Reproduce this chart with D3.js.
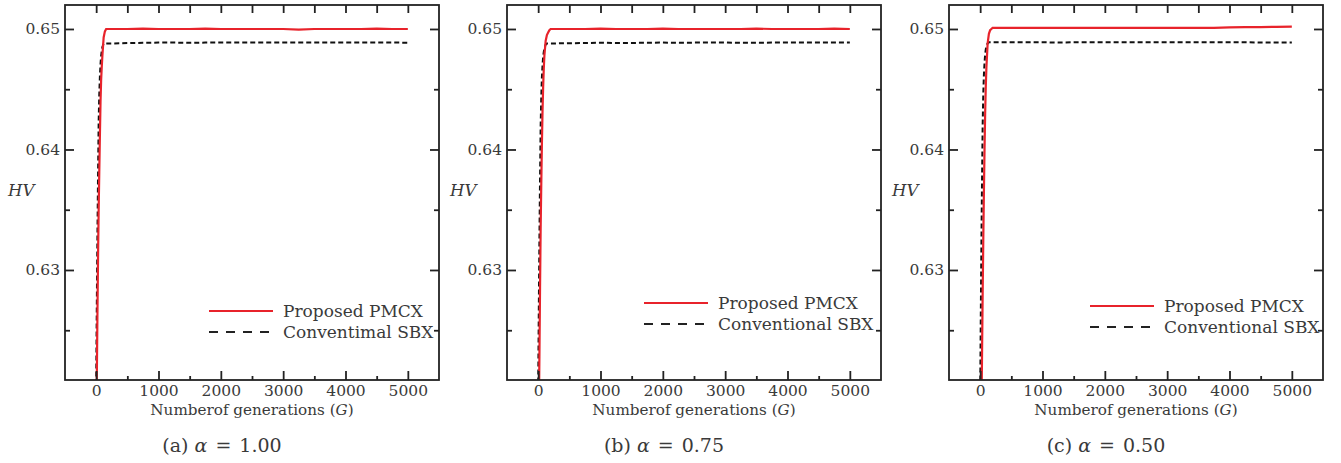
<!DOCTYPE html>
<html>
<head>
<meta charset="utf-8">
<script src="https://cdn.jsdelivr.net/npm/d3@7"></script>
<style>
  html, body { margin: 0; padding: 0; background: #fff; }
  svg { display: block; }
  text { font-family: "DejaVu Serif", "Liberation Serif", serif; fill: #3a3a3a; }
</style>
</head>
<body>
<svg id="chart" width="1341" height="463"></svg>
<script>
// Generations at which hypervolume was recorded
const generations = [0, 10, 20, 30, 40, 50, 60, 70, 80, 90, 100, 120, 140, 160, 180, 200,
  250, 500, 750, 1000, 1250, 1500, 1750, 2000, 2250, 2500, 2750, 3000, 3250, 3500, 3750, 4000, 4250, 4500, 4750, 5000];

// Hypervolume of the proposed PMCX, one list per alpha
const pmcxA100 = [0.6150, 0.6209, 0.6262, 0.6310, 0.6350, 0.6382, 0.6412, 0.6440, 0.6458, 0.6469, 0.6478, 0.6493, 0.6498, 0.6500, 0.6500, 0.6500,
  0.6500, 0.6500, 0.65003, 0.6500, 0.6500, 0.6500, 0.65003, 0.6500, 0.6500, 0.6500, 0.6500, 0.6500, 0.64995, 0.6500, 0.6500, 0.6500, 0.6500, 0.65003, 0.6500, 0.6500];
const pmcxA075 = [0.6120, 0.6175, 0.6228, 0.6285, 0.6335, 0.6372, 0.6405, 0.6432, 0.6452, 0.6467, 0.6478, 0.6490, 0.6495, 0.6497, 0.6499, 0.6500,
  0.6500, 0.6500, 0.6500, 0.65003, 0.6500, 0.6500, 0.6500, 0.65003, 0.6500, 0.6500, 0.6500, 0.6500, 0.6500, 0.65003, 0.6500, 0.6500, 0.6500, 0.6500, 0.65003, 0.6500];
const pmcxA050 = [0.6080, 0.6130, 0.6180, 0.6230, 0.6280, 0.6325, 0.6365, 0.6400, 0.6430, 0.6452, 0.6468, 0.6488, 0.6496, 0.6499, 0.6500, 0.6501,
  0.6501, 0.6501, 0.6501, 0.6501, 0.6501, 0.6501, 0.6501, 0.6501, 0.6501, 0.6501, 0.6501, 0.6501, 0.6501, 0.6501, 0.6501, 0.65013, 0.65015, 0.65015, 0.65018, 0.6502];

// Hypervolume of the conventional SBX, one list per alpha
const sbxA100 = [0.6205, 0.6270, 0.6328, 0.6378, 0.6423, 0.6446, 0.6461, 0.6471, 0.6478, 0.6482, 0.6485, 0.6488, 0.6488, 0.6488, 0.6488, 0.6488,
  0.6488, 0.64883, 0.64885, 0.64887, 0.64887, 0.64885, 0.64887, 0.64887, 0.64887, 0.64887, 0.64887, 0.64888, 0.64888, 0.64888, 0.64888, 0.64888, 0.64888, 0.64888, 0.64888, 0.64886];
const sbxA075 = [0.6200, 0.6266, 0.6325, 0.6376, 0.6420, 0.6444, 0.6460, 0.6470, 0.6477, 0.6481, 0.6484, 0.6487, 0.6488, 0.6488, 0.6488, 0.6488,
  0.6488, 0.64882, 0.64883, 0.64886, 0.64884, 0.64884, 0.64886, 0.64887, 0.64885, 0.64887, 0.64887, 0.64887, 0.64885, 0.64885, 0.64887, 0.64887, 0.64887, 0.64887, 0.64887, 0.64887];
const sbxA050 = [0.6195, 0.6262, 0.6322, 0.6374, 0.6420, 0.6446, 0.6462, 0.6472, 0.6479, 0.6483, 0.6486, 0.6488, 0.6489, 0.6489, 0.6489, 0.6489,
  0.6489, 0.6489, 0.6489, 0.6489, 0.64887, 0.6489, 0.6489, 0.6489, 0.6489, 0.6489, 0.6489, 0.6489, 0.6489, 0.6489, 0.6489, 0.6489, 0.6489, 0.64887, 0.64887, 0.64887];

// Axis ticks
const xMajorTicks = [0, 1000, 2000, 3000, 4000, 5000];
const xMinorTicks = [500, 1500, 2500, 3500, 4500];
const yMajorTicks = [0.63, 0.64, 0.65];
const yMinorTicks = [0.625, 0.635, 0.645];
const xDomain = [-500, 5500];
const yDomain = [0.62087, 0.65199];

// Panel captions and legend entries
const captionPrefixes = ["(a)", "(b)", "(c)"];
const alphaLabels = ["1.00", "0.75", "0.50"];
const pmcxLegend = ["Proposed PMCX", "Proposed PMCX", "Proposed PMCX"];
const sbxLegend = ["Conventimal SBX", "Conventional SBX", "Conventional SBX"];

const pmcxSeries = [pmcxA100, pmcxA075, pmcxA050];
const sbxSeries = [sbxA100, sbxA075, sbxA050];

// Layout of the three panels
const panelLeft = [65, 507, 949];
const legendOffset = [{ x: 144, y: 311 }, { x: 137, y: 303 }, { x: 141, y: 306 }];
const plotW = 374, plotTop = 5, plotBottom = 380;

const RED = "#e8232b";
const svg = d3.select("#chart");

panelLeft.forEach((left, i) => {
  const x = d3.scaleLinear().domain(xDomain).range([left, left + plotW]);
  const y = d3.scaleLinear().domain(yDomain).range([plotBottom, plotTop]);
  const g = svg.append("g");

  const clipId = "clip" + i;
  svg.append("clipPath").attr("id", clipId)
    .append("rect").attr("x", left).attr("y", plotTop)
    .attr("width", plotW).attr("height", plotBottom - plotTop);

  // Curves
  const line = d3.line().x((d, k) => x(generations[k])).y(d => y(d));
  const curves = g.append("g").attr("clip-path", `url(#${clipId})`);
  curves.append("path").datum(sbxSeries[i])
    .attr("d", line).attr("fill", "none")
    .attr("stroke", "#111").attr("stroke-width", 2)
    .attr("stroke-dasharray", "5,3");
  curves.append("path").datum(pmcxSeries[i])
    .attr("d", line).attr("fill", "none")
    .attr("stroke", RED).attr("stroke-width", 2.2);

  // Inward ticks on all four sides
  const tickColor = "#222";
  const bottomMajor = d3.axisBottom(x).tickValues(xMajorTicks).tickSizeInner(-9).tickSizeOuter(0).tickPadding(5).tickFormat(d3.format("d"));
  const bottomMinor = d3.axisBottom(x).tickValues(xMinorTicks).tickSizeInner(-4).tickSizeOuter(0).tickFormat("");
  const topAll = d3.axisTop(x).tickValues(xMajorTicks.concat(xMinorTicks)).tickSizeInner(-8).tickSizeOuter(0).tickFormat("");
  const leftMajor = d3.axisLeft(y).tickValues(yMajorTicks).tickSizeInner(-9).tickSizeOuter(0).tickPadding(5).tickFormat(d3.format(".2f"));
  const leftMinor = d3.axisLeft(y).tickValues(yMinorTicks).tickSizeInner(-5).tickSizeOuter(0).tickFormat("");
  const rightMajor = d3.axisRight(y).tickValues(yMajorTicks).tickSizeInner(-9).tickSizeOuter(0).tickFormat("");
  const rightMinor = d3.axisRight(y).tickValues(yMinorTicks).tickSizeInner(-5).tickSizeOuter(0).tickFormat("");

  const axes = [
    [bottomMajor, `translate(0,${plotBottom})`],
    [bottomMinor, `translate(0,${plotBottom})`],
    [topAll, `translate(0,${plotTop})`],
    [leftMajor, `translate(${left},0)`],
    [leftMinor, `translate(${left},0)`],
    [rightMajor, `translate(${left + plotW},0)`],
    [rightMinor, `translate(${left + plotW},0)`]
  ];
  axes.forEach(([ax, tr]) => {
    const a = g.append("g").attr("transform", tr).call(ax);
    a.select(".domain").remove();
    a.selectAll("line").attr("stroke", tickColor).attr("stroke-width", 1.8);
    a.selectAll("text").attr("font-size", 15.5).attr("fill", "#3a3a3a")
      .attr("font-family", '"DejaVu Serif", serif');
  });

  // Frame
  g.append("rect").attr("x", left).attr("y", plotTop)
    .attr("width", plotW).attr("height", plotBottom - plotTop)
    .attr("fill", "none").attr("stroke", "#222").attr("stroke-width", 1.8);

  // Axis titles
  const cx = left + plotW / 2;
  const xt = g.append("text").attr("x", cx).attr("y", 415)
    .attr("text-anchor", "middle").attr("font-size", 15.2);
  xt.append("tspan").text("Numberof generations (");
  xt.append("tspan").attr("font-style", "italic").text("G");
  xt.append("tspan").text(")");

  g.append("text").attr("x", left - 57).attr("y", 196)
    .attr("font-size", 16.5).attr("font-style", "italic").text("HV");

  // Caption
  const cap = g.append("text").attr("x", cx - 30).attr("y", 452)
    .attr("text-anchor", "middle").attr("font-size", 19);
  cap.append("tspan").text(captionPrefixes[i] + " ");
  cap.append("tspan").attr("font-style", "italic").text("α");
  cap.append("tspan").attr("dx", 8).text("=");
  cap.append("tspan").attr("dx", 8).text(alphaLabels[i]);

  // Legend
  const lx = left + legendOffset[i].x, ly = legendOffset[i].y;
  const lg = g.append("g");
  lg.append("line").attr("x1", lx).attr("x2", lx + 64).attr("y1", ly).attr("y2", ly)
    .attr("stroke", RED).attr("stroke-width", 2);
  lg.append("line").attr("x1", lx).attr("x2", lx + 64).attr("y1", ly + 21).attr("y2", ly + 21)
    .attr("stroke", "#222").attr("stroke-width", 2).attr("stroke-dasharray", "9,8");
  lg.append("text").attr("x", lx + 74).attr("y", ly + 6).attr("font-size", 17).text(pmcxLegend[i]);
  lg.append("text").attr("x", lx + 74).attr("y", ly + 27).attr("font-size", 17).text(sbxLegend[i]);
});
</script>
</body>
</html>
